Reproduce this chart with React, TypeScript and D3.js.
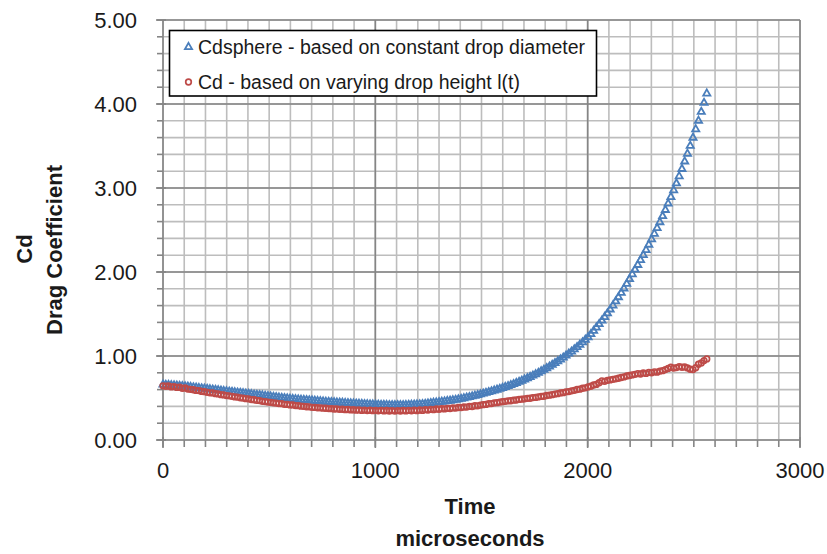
import React from "react";
import * as d3 from "d3";

// Frame times (microseconds)
const frameTimes = [
  0,13,26,39,52,65,78,91,104,117,
  130,143,156,169,182,195,208,221,234,247,
  260,273,286,299,312,325,338,351,364,377,
  390,403,416,429,442,455,468,481,494,507,
  520,533,546,559,572,585,598,611,624,637,
  650,663,676,689,702,715,728,741,754,767,
  780,793,806,819,832,845,858,871,884,897,
  910,923,936,949,962,975,988,1001,1014,1027,
  1040,1053,1066,1079,1092,1105,1118,1131,1144,1157,
  1170,1183,1196,1209,1222,1235,1248,1261,1274,1287,
  1300,1313,1326,1339,1352,1365,1378,1391,1404,1417,
  1430,1443,1456,1469,1482,1495,1508,1521,1534,1547,
  1560,1573,1586,1599,1612,1625,1638,1651,1664,1677,
  1690,1703,1716,1729,1742,1755,1768,1781,1794,1807,
  1820,1833,1846,1859,1872,1885,1898,1911,1924,1937,
  1950,1963,1976,1989,2002,2015,2028,2041,2054,2067,
  2080,2093,2106,2119,2132,2145,2158,2171,2184,2197,
  2210,2223,2236,2249,2262,2275,2288,2301,2314,2327,
  2340,2353,2366,2379,2392,2405,2418,2431,2444,2457,
  2470,2483,2496,2509,2522,2535,2548,2561,
];

// Cdsphere - based on constant drop diameter
const cdSphere = [
  0.660,0.657,0.655,0.652,0.650,0.647,0.644,0.642,0.639,0.635,
  0.631,0.627,0.623,0.619,0.615,0.612,0.608,0.604,0.600,0.596,
  0.592,0.588,0.584,0.580,0.576,0.573,0.569,0.565,0.561,0.557,
  0.553,0.549,0.545,0.541,0.537,0.534,0.530,0.526,0.522,0.518,
  0.514,0.510,0.506,0.502,0.498,0.495,0.491,0.488,0.485,0.482,
  0.479,0.477,0.474,0.472,0.470,0.467,0.464,0.462,0.459,0.456,
  0.454,0.451,0.449,0.447,0.445,0.443,0.441,0.439,0.437,0.435,
  0.434,0.432,0.430,0.428,0.426,0.424,0.423,0.421,0.420,0.419,
  0.418,0.417,0.416,0.416,0.415,0.415,0.415,0.416,0.417,0.418,
  0.420,0.421,0.423,0.425,0.428,0.431,0.435,0.439,0.443,0.447,
  0.451,0.455,0.459,0.464,0.468,0.473,0.478,0.484,0.490,0.497,
  0.504,0.511,0.519,0.527,0.535,0.543,0.552,0.561,0.570,0.579,
  0.589,0.599,0.609,0.620,0.631,0.642,0.654,0.666,0.679,0.692,
  0.706,0.720,0.735,0.750,0.766,0.783,0.800,0.818,0.836,0.855,
  0.874,0.894,0.915,0.936,0.958,0.981,1.004,1.028,1.053,1.079,
  1.106,1.134,1.163,1.193,1.224,1.261,1.299,1.339,1.379,1.421,
  1.464,1.508,1.554,1.601,1.650,1.700,1.751,1.804,1.859,1.915,
  1.973,2.028,2.084,2.142,2.201,2.262,2.325,2.389,2.455,2.523,
  2.593,2.665,2.739,2.815,2.893,2.973,3.055,3.140,3.227,3.316,
  3.408,3.502,3.599,3.699,3.801,3.906,4.014,4.125,
];

// Cd - based on varying drop height l(t)
const cdHeight = [
  0.645,0.640,0.643,0.632,0.636,0.626,0.628,0.615,0.620,0.606,
  0.603,0.598,0.590,0.588,0.578,0.575,0.568,0.562,0.560,0.551,
  0.548,0.540,0.537,0.529,0.526,0.520,0.513,0.511,0.502,0.499,
  0.492,0.490,0.481,0.479,0.471,0.469,0.460,0.458,0.452,0.448,
  0.442,0.440,0.434,0.432,0.425,0.424,0.418,0.417,0.410,0.409,
  0.403,0.401,0.396,0.395,0.389,0.388,0.384,0.383,0.379,0.378,
  0.374,0.373,0.369,0.370,0.365,0.366,0.361,0.363,0.358,0.360,
  0.355,0.358,0.352,0.356,0.350,0.354,0.349,0.353,0.347,0.352,
  0.346,0.351,0.345,0.350,0.344,0.350,0.345,0.351,0.346,0.352,
  0.347,0.354,0.349,0.357,0.352,0.361,0.356,0.365,0.361,0.369,
  0.366,0.373,0.370,0.377,0.375,0.382,0.380,0.387,0.386,0.393,
  0.392,0.400,0.399,0.408,0.407,0.416,0.421,0.424,0.433,0.434,
  0.442,0.444,0.452,0.456,0.460,0.466,0.467,0.474,0.476,0.483,
  0.486,0.490,0.496,0.497,0.505,0.507,0.513,0.519,0.521,0.530,
  0.534,0.540,0.547,0.551,0.560,0.563,0.573,0.577,0.586,0.591,
  0.601,0.605,0.616,0.621,0.632,0.640,0.655,0.662,0.682,0.705,
  0.698,0.710,0.715,0.722,0.728,0.735,0.744,0.751,0.762,0.768,
  0.775,0.782,0.791,0.786,0.798,0.793,0.805,0.800,0.812,0.808,
  0.820,0.825,0.838,0.852,0.868,0.856,0.862,0.874,0.866,0.870,
  0.858,0.842,0.838,0.860,0.902,0.918,0.945,0.965,
];

const xTickValues = [0, 1000, 2000, 3000];
const xTickLabels = ["0", "1000", "2000", "3000"];
const yTickValues = [0, 1, 2, 3, 4, 5];
const yTickLabels = ["0.00", "1.00", "2.00", "3.00", "4.00", "5.00"];

const seriesNames = [
  "Cdsphere - based on constant drop diameter",
  "Cd - based on varying drop height l(t)",
];
const blue = "#4a7ebb";
const red = "#be4b48";

export default function App() {
  const W = 827, H = 554;
  const left = 163, right = 800, top = 20, bottom = 440;
  const x = d3.scaleLinear().domain([0, 3000]).range([left, right]);
  const y = d3.scaleLinear().domain([0, 5]).range([bottom, top]);
  const font = "'Liberation Sans', Arial, sans-serif";

  const minorX = d3.range(0, 3001, 100);
  const minorY = d3.range(0, 26).map((i) => i * 0.2);

  const tri = d3.symbol().type(d3.symbolTriangle).size(22)();
  const textColor = "#1a1a1a";

  return (
    <svg
      width={W}
      height={H}
      style={{ position: "absolute", left: 0, top: 0, background: "#fff" }}
      fontFamily={font}
    >
      <rect x={0} y={0} width={W} height={H} fill="#fff" />
      {/* minor grid */}
      {minorX.map((v) => (
        <line key={"mx" + v} x1={x(v)} x2={x(v)} y1={top} y2={bottom} stroke="#bdbdbd" strokeWidth={1.6} />
      ))}
      {minorY.map((v, i) => (
        <line key={"my" + i} x1={left} x2={right} y1={y(v)} y2={y(v)} stroke="#bdbdbd" strokeWidth={1.6} />
      ))}
      {/* major grid */}
      {xTickValues.map((v) => (
        <line key={"Mx" + v} x1={x(v)} x2={x(v)} y1={top} y2={bottom} stroke="#858585" strokeWidth={1.6} />
      ))}
      {yTickValues.map((v) => (
        <line key={"My" + v} x1={left} x2={right} y1={y(v)} y2={y(v)} stroke="#858585" strokeWidth={1.6} />
      ))}
      {/* axis ticks */}
      {minorY.map((v, i) => (
        <line key={"ty" + i} x1={left - 6} x2={left} y1={y(v)} y2={y(v)} stroke="#858585" strokeWidth={1.6} />
      ))}
      {yTickValues.map((v) => (
        <line key={"tyM" + v} x1={left - 7} x2={left + 3} y1={y(v)} y2={y(v)} stroke="#858585" strokeWidth={1.6} />
      ))}
      {minorX.map((v) => (
        <line key={"tx" + v} x1={x(v)} x2={x(v)} y1={bottom} y2={bottom + 7} stroke="#858585" strokeWidth={1.6} />
      ))}
      {xTickValues.map((v) => (
        <line key={"txM" + v} x1={x(v)} x2={x(v)} y1={bottom - 3} y2={bottom + 8} stroke="#858585" strokeWidth={1.6} />
      ))}
      {/* tick labels */}
      {yTickValues.map((v, i) => (
        <text key={"yl" + v} x={137} y={y(v)} dy="0.36em" textAnchor="end" fontSize={22} fill={textColor}>
          {yTickLabels[i]}
        </text>
      ))}
      {xTickValues.map((v, i) => (
        <text key={"xl" + v} x={x(v)} y={478} textAnchor="middle" fontSize={22} fill={textColor}>
          {xTickLabels[i]}
        </text>
      ))}
      {/* axis titles */}
      <text x={470} y={514} textAnchor="middle" fontSize={22} fontWeight="bold" fill={textColor}>Time</text>
      <text x={470} y={546} textAnchor="middle" fontSize={22} fontWeight="bold" fill={textColor}>microseconds</text>
      <text transform="translate(31.5,249) rotate(-90)" textAnchor="middle" fontSize={22} fontWeight="bold" fill={textColor}>Cd</text>
      <text transform="translate(61.5,250) rotate(-90)" textAnchor="middle" fontSize={22} fontWeight="bold" fill={textColor}>Drag Coefficient</text>

      {/* series: Cdsphere triangles */}
      {frameTimes.map((t, i) => (
        <path key={"b" + i} d={tri} transform={`translate(${x(t)},${y(cdSphere[i])})`} fill="none" stroke={blue} strokeWidth={1.8} />
      ))}
      {/* series: Cd circles */}
      {frameTimes.map((t, i) => (
        <circle key={"r" + i} cx={x(t)} cy={y(cdHeight[i])} r={2.8} fill="none" stroke={red} strokeWidth={1.7} />
      ))}

      {/* legend */}
      <rect x={169.5} y={30.5} width={427} height={65.5} fill="#fff" stroke="#000" strokeWidth={1.6} />
      <path d={tri} transform="translate(188.5,47)" fill="none" stroke={blue} strokeWidth={1.8} />
      <text x={198} y={53.5} fontSize={19.5} fill={textColor}>{seriesNames[0]}</text>
      <circle cx={188.5} cy={82} r={2.8} fill="none" stroke={red} strokeWidth={1.7} />
      <text x={198} y={88.5} fontSize={19.5} fill={textColor}>{seriesNames[1]}</text>
    </svg>
  );
}
